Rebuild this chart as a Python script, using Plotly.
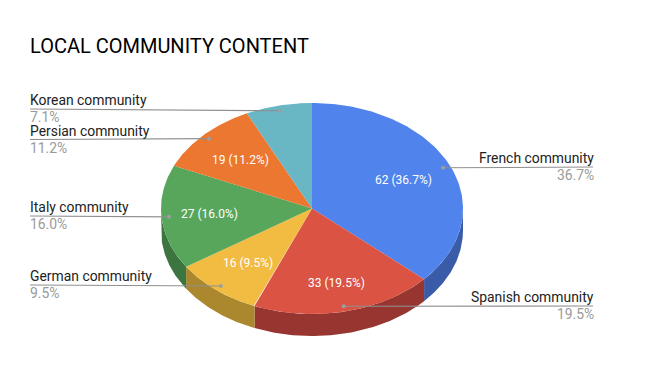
import numpy as np
import plotly.graph_objects as go

categories = ["French community", "Spanish community", "German community",
              "Italy community", "Persian community", "Korean community"]
values = [62, 33, 16, 27, 19, 12]
top_colors = ["#5083EC", "#DA5343", "#F2BC42", "#58A65C", "#EB7730", "#69B7C5"]
side_colors = ["#3A5CA8", "#973530", "#AB872E", "#3D7541", "#A55420", "#4A808A"]

CX, CY, RX, RY, DEPTH = 312, 208.5, 151, 105.5, 22
total = sum(values)
edges = np.cumsum([0] + values) / total * 2 * np.pi


def ell(t, r=1.0, dy=0.0):
    return CX + r * RX * np.sin(t), CY - r * RY * np.cos(t) + dy


fig = go.Figure()

# Side wall: only the part of the rim facing the viewer (pi/2 .. 3pi/2)
for i in range(len(values)):
    a = max(edges[i], np.pi / 2)
    b = min(edges[i + 1], 3 * np.pi / 2)
    if a >= b:
        continue
    t = np.linspace(a, b, 80)
    x1, y1 = ell(t)
    x2, y2 = ell(t[::-1], dy=DEPTH)
    fig.add_trace(go.Scatter(x=np.r_[x1, x2], y=np.r_[y1, y2], mode="lines", fill="toself",
                             fillcolor=side_colors[i], line=dict(width=0),
                             hoverinfo="skip", showlegend=False))

# Top face
for i in range(len(values)):
    t = np.linspace(edges[i], edges[i + 1], 120)
    x, y = ell(t)
    fig.add_trace(go.Scatter(x=np.r_[CX, x, CX], y=np.r_[CY, y, CY], mode="lines", fill="toself",
                             fillcolor=top_colors[i], line=dict(width=0),
                             name=categories[i], hoverinfo="name", showlegend=False))

# Leader lines + labels
left_side = {"German community": 285, "Italy community": 216,
             "Persian community": 139.5, "Korean community": 109}
right_side = {"French community": 167, "Spanish community": 306}
inner_r = {"Spanish community": 0.72, "Italy community": 0.68, "German community": 0.67}
ann = []
for i, name in enumerate(categories):
    mid = (edges[i] + edges[i + 1]) / 2
    pct = values[i] / total * 100
    dx, dy = ell(mid, 0.95)
    is_left = name in left_side
    ly = left_side[name] if is_left else right_side[name]
    lx = 30 if is_left else 593
    text_x = 29 if is_left else 595
    fig.add_trace(go.Scatter(x=[lx, dx], y=[ly, dy], mode="lines",
                             line=dict(color="#8f8f8f", width=1.1),
                             hoverinfo="skip", showlegend=False))
    fig.add_trace(go.Scatter(x=[dx], y=[dy], mode="markers",
                             marker=dict(color="#9e9e9e", size=4),
                             hoverinfo="skip", showlegend=False))
    anchor = "left" if is_left else "right"
    ann.append(dict(x=text_x, y=ly, text=name, xanchor=anchor, yanchor="bottom", showarrow=False,
                    font=dict(family="Roboto", size=13.9, color="#222222")))
    ann.append(dict(x=text_x, y=ly - 1, text=f"{pct:.1f}%", xanchor=anchor, yanchor="top", showarrow=False,
                    font=dict(family="Roboto", size=13.9, color="#9a9a9a")))
    if pct > 8:
        tx, ty = ell(mid, inner_r.get(name, 0.66))
        ann.append(dict(x=tx, y=ty, text=f"{values[i]} ({pct:.1f}%)", xanchor="center", yanchor="middle",
                        showarrow=False, font=dict(family="Roboto", size=12, color="#ffffff")))

for a in ann:
    a.update(borderpad=0, xref="x", yref="y")

ann.append(dict(x=29, y=46, text="LOCAL COMMUNITY CONTENT", xref="x", yref="y", xanchor="left",
                yanchor="middle", showarrow=False, borderpad=0,
                font=dict(family="Roboto", size=20, color="#000000")))

fig.update_layout(
    width=667, height=384, margin=dict(l=0, r=0, t=0, b=0),
    paper_bgcolor="#ffffff", plot_bgcolor="#ffffff", annotations=ann,
    xaxis=dict(range=[0, 667], visible=False, fixedrange=True),
    yaxis=dict(range=[384, 0], visible=False, fixedrange=True),
    showlegend=False,
)
fig.write_html("out.html", config={"displayModeBar": False},
               post_script="document.body.style.margin='0';")
